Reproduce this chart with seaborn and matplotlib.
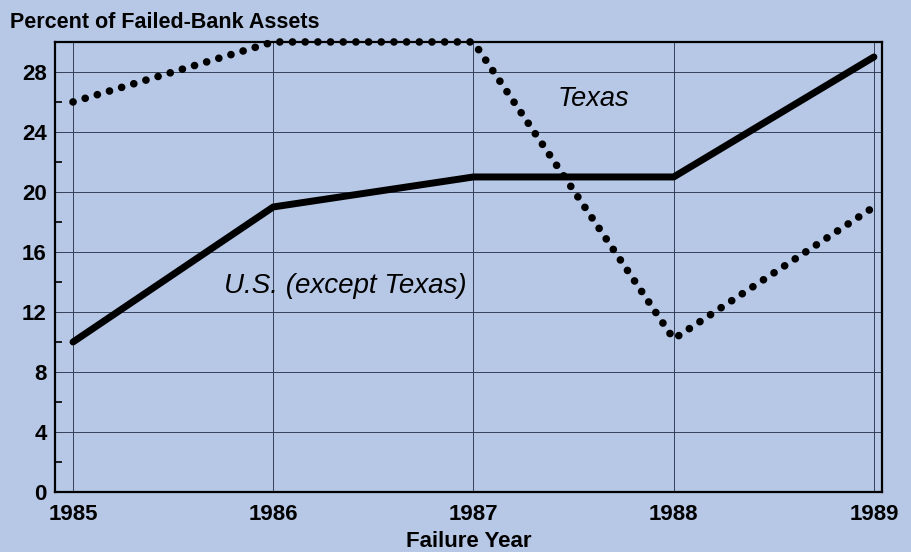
import pandas as pd
import seaborn as sns
import matplotlib.pyplot as plt

years = [1985, 1986, 1987, 1988, 1989]
texas = [26, 30, 30, 10.2, 19]
us_except_texas = [10, 19, 21, 21, 29]

bg = '#b7c7e6'

sns.set_theme(style='white')
plt.rcParams['font.family'] = ['Liberation Sans', 'DejaVu Sans']
plt.rcParams['text.color'] = 'black'

df = pd.DataFrame({'year': years, 'Texas': texas, 'US': us_except_texas})

fig = plt.figure(figsize=(9.12, 5.52), dpi=100, facecolor=bg)
ax = fig.add_axes([0.0603, 0.1087, 0.9067, 0.8153])
ax.set_facecolor(bg)

sns.lineplot(data=df, x='year', y='US', ax=ax, color='black', linewidth=5,
             solid_capstyle='round')
sns.lineplot(data=df, x='year', y='Texas', ax=ax, color='black', linewidth=5.5,
             linestyle=(0, (0.01, 1.65)), dash_capstyle='round', clip_on=False)

ax.set_xlim(1984.91, 1989.04)
ax.set_ylim(0, 30)
ax.set_xticks(years)
ax.set_xticklabels([str(y) for y in years])
ax.set_yticks(range(0, 29, 4))
ax.set_yticks(range(2, 30, 4), minor=True)
ax.grid(True, which='major', color='#34405a', linewidth=0.7)
ax.tick_params(axis='x', which='major', length=0, labelsize=16, pad=9,
               labelcolor='black')
ax.tick_params(axis='y', which='major', length=0, labelsize=16, pad=6,
               labelcolor='black')
ax.tick_params(axis='y', which='minor', left=True, direction='in', length=5,
               width=1.2, color='black')
for lbl in ax.get_xticklabels() + ax.get_yticklabels():
    lbl.set_fontweight('bold')

for s in ax.spines.values():
    s.set_color('black')
    s.set_linewidth(1.6)

ax.set_xlabel('Failure Year', fontsize=16, fontweight='bold', labelpad=4,
              color='black')
ax.set_ylabel('')
fig.text(0.011, 0.96, 'Percent of Failed-Bank Assets', fontsize=15.5,
         fontweight='bold', ha='left', va='center', color='black')

ax.text(1987.6, 26.2, 'Texas', fontsize=19.5, style='italic', ha='center',
        va='center', color='black')
ax.text(1986.36, 13.7, 'U.S. (except Texas)', fontsize=20, style='italic',
        ha='center', va='center', color='black')

fig.savefig('out.png', dpi=100, facecolor=bg)
